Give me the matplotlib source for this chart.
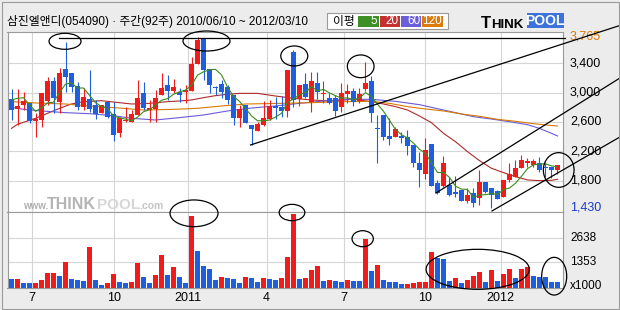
import matplotlib as mpl
mpl.use('Agg')
import numpy as np
import pandas as pd
import matplotlib.pyplot as plt
import matplotlib.transforms as mtransforms
from matplotlib.patches import Ellipse, Rectangle

# weekly candles 2010/06/10 ~ 2012/03/10 (92 weeks), prices in won
opens = [2913, 2781, 2827, 2854, 2618, 2627, 2890, 3163, 2868, 3322,
         3263, 3090, 2809, 2913, 2831, 2727, 2872, 2704, 2454, 2613,
         2604, 2695, 3000, 2763, 2772, 2968, 3104, 3022, 3004, 3009,
         3022, 3386, 3740, 3318, 3081, 3118, 3081, 2968, 2650, 2831,
         2559, 2481, 2559, 2636, 2818, 2800, 2754, 3549, 2909, 3118,
         2868, 3136, 2981, 2931, 2922, 2800, 2981, 3022, 2886, 3045,
         3159, 2518, 2695, 2409, 2391, 2409, 2391, 2286, 2045, 1891,
         2300, 1763, 1727, 1741, 1641, 1672, 1527, 1636, 1559, 1777,
         1695, 1659, 1581, 1809, 1854, 1968, 2045, 2013, 2036, 1990,
         1981, 1945]
highs = [3050, 3045, 3009, 2863, 2727, 3000, 3218, 3218, 3331, 3695,
         3272, 3150, 3059, 3309, 2900, 2831, 2872, 2872, 2663, 2809,
         2763, 3172, 3150, 2900, 3036, 3263, 3240, 3186, 3059, 3104,
         3490, 3765, 3740, 3318, 3090, 3172, 3104, 2968, 2831, 2831,
         2559, 2604, 2890, 2900, 2945, 2954, 3309, 3581, 3104, 3272,
         3286, 3286, 3163, 3000, 2968, 3127, 3118, 3059, 3059, 3422,
         3227, 2695, 2695, 2650, 2536, 2468, 2490, 2286, 2195, 2377,
         2300, 1809, 2136, 1854, 1868, 1672, 1695, 1695, 1945, 1786,
         1695, 1672, 1809, 2036, 2082, 2150, 2104, 2091, 2127, 2059,
         1990, 2013]
lows = [2627, 2559, 2763, 2590, 2400, 2536, 2831, 2718, 2718, 3013,
        3013, 2763, 2763, 2740, 2636, 2718, 2650, 2345, 2400, 2604,
        2604, 2695, 2763, 2604, 2604, 2968, 2900, 2990, 2877, 2854,
        3022, 3386, 3172, 2990, 2968, 2922, 2845, 2559, 2527, 2581,
        2286, 2481, 2545, 2627, 2636, 2672, 2663, 2800, 2818, 2922,
        2740, 2909, 2854, 2845, 2681, 2740, 2863, 2818, 2854, 3027,
        2604, 2036, 2354, 2286, 2391, 2309, 2150, 1990, 1718, 1822,
        1727, 1618, 1718, 1595, 1581, 1527, 1491, 1445, 1468, 1627,
        1430, 1550, 1581, 1786, 1854, 1968, 1990, 1981, 1922, 1854,
        1831, 1891]
closes = [2763, 2818, 2881, 2613, 2645, 3000, 3159, 2931, 3272, 3218,
          3081, 2809, 2936, 2777, 2709, 2827, 2672, 2422, 2650, 2627,
          2709, 2922, 2786, 2795, 2922, 3059, 3027, 3081, 2968, 3036,
          3390, 3718, 3309, 3104, 3068, 3013, 2900, 2650, 2772, 2590,
          2500, 2572, 2650, 2818, 2795, 2754, 3309, 2900, 3104, 2945,
          3159, 3013, 3000, 2863, 2754, 3000, 3022, 2877, 2977, 3127,
          2727, 2504, 2391, 2363, 2500, 2377, 2277, 2036, 1945, 2218,
          1727, 1627, 2045, 1604, 1618, 1527, 1604, 1491, 1777, 1641,
          1604, 1550, 1809, 1891, 1968, 2082, 2068, 2068, 1945, 1977,
          1945, 2013]
prev_closes = [2710, 2840, 3080, 3110]   # 4 weeks before the window (for MA5)

# volume, x1000 shares
volumes = [458, 470, 250, 240, 255, 405, 774, 780, 616, 1355,
           458, 405, 352, 2147, 405, 141, 246, 722, 300, 290,
           305, 1302, 563, 246, 669, 1725, 669, 1091, 563, 246,
           3802, 1936, 1144, 986, 405, 563, 510, 500, 246, 563,
           510, 299, 510, 458, 405, 510, 1619, 3890, 458, 510,
           933, 1144, 352, 405, 352, 299, 405, 352, 352, 2570,
           880, 1197, 405, 299, 299, 190, 200, 246, 299, 310,
           1883, 1566, 1514, 352, 510, 246, 405, 616, 827, 299,
           933, 352, 722, 986, 510, 986, 1091, 616, 563, 563,
           299, 299]

# longer moving averages (week index, price)
ma20_idx = [0, 1, 4, 6, 8, 10, 12, 15, 18, 20, 23, 26, 28, 30, 32, 34, 36, 38, 41, 44,
            47, 50, 53, 57, 60, 62, 64, 66, 68, 70, 72, 74, 76, 78, 80, 82, 84, 86, 88, 90, 91]
ma20_val = [2513, 2568, 2650, 2718, 2786, 2845, 2877, 2890, 2863, 2845, 2854, 2877, 2886, 2900,
            2931, 2959, 2977, 2990, 2990, 2954, 2922, 2900, 2886, 2909, 2877, 2845, 2809, 2763,
            2681, 2590, 2445, 2331, 2195, 2072, 1968, 1909, 1854, 1809, 1800, 1804, 1818]
ma60_idx = [0, 2, 5, 9, 13, 17, 20, 24, 28, 32, 36, 40, 44, 48, 52, 56, 60, 64, 68, 71,
            74, 77, 80, 83, 86, 88, 90, 91]
ma60_val = [2800, 2772, 2750, 2727, 2713, 2686, 2650, 2627, 2659, 2695, 2750, 2790, 2818, 2854,
            2886, 2909, 2909, 2881, 2836, 2781, 2727, 2672, 2640, 2604, 2563, 2513, 2445, 2409]
ma120_idx = [0, 4, 9, 13, 18, 22, 27, 31, 35, 39, 45, 50, 55, 60, 63, 66, 69, 72, 75, 78,
             81, 84, 87, 89, 91]
ma120_val = [2877, 2859, 2845, 2818, 2790, 2763, 2772, 2786, 2818, 2845, 2854, 2863, 2877, 2881,
             2854, 2809, 2777, 2750, 2709, 2677, 2636, 2609, 2577, 2559, 2545]

tick_pos = [3.47, 17.08, 29.42, 42.53, 55.42, 68.92, 81.53]
tick_lab = ['7', '10', '2011', '4', '7', '10', '2012']
price_ticks = [3400, 3000, 2600, 2200, 1800]
vol_ticks = [1353, 2638]

# hand drawn marks on the chart: (week, value, width in weeks, height in value)
price_circles = [(8.92, 3700, 5.33, 218), (32.5, 3704, 7.83, 273), (47.13, 3500, 4.5, 273),
                 (58.2, 3359, 4.45, 310), (91.2, 1945, 5.12, 473)]
vol_circles = [(30.42, 3944, 8.0, 1410), (46.75, 3986, 4.28, 861), (58.53, 2603, 3.55, 845),
               (77.7, 987, 17.2, 2112), (90.45, 623, 4.17, 1991)]
trend_lines = [((7.92, 3741), (92.25, 3741)), ((39.83, 2286), (101.4, 3916)),
               ((70.75, 1631), (101.4, 3199)), ((80.08, 1386), (101.4, 2395))]

RED = '#f01c1c'
BLUE = '#1f5fdf'
C_MA5, C_MA20, C_MA60, C_MA120 = '#3c8c1c', '#b02a2a', '#6a5ad8', '#d97a00'
NUM_FONT = ['Liberation Sans', 'DejaVu Sans']
KR_FONT = ['Liberation Sans', 'Noto Sans CJK KR', 'DejaVu Sans']

W, H = 620, 310
def fx(px):
    return px / W
def fy(py):
    return 1 - py / H

fig = plt.figure(figsize=(6.2, 3.1), dpi=100)
fig.patch.set_facecolor('#ececec')

ax_p = fig.add_axes([fx(7.5), fy(212), 555.5 / W, 180 / H])
ax_v = fig.add_axes([fx(7.5), fy(288), 555.5 / W, 76 / H])

O = np.array(opens); Hh = np.array(highs); L = np.array(lows); C = np.array(closes)
n = len(C)
x = np.arange(n)
cols = np.where(C >= O, RED, BLUE)

for ax in (ax_p, ax_v):
    ax.set_facecolor('white')
    ax.set_xlim(-0.667, 91.917)
    ax.set_xticks(tick_pos)
    ax.grid(True, color='#d6d6d6', lw=0.8)
    ax.set_axisbelow(True)
    for s in ax.spines.values():
        s.set_color('#9a9a9a')
        s.set_linewidth(0.8)
    ax.tick_params(length=0, labelleft=False)

ax_p.set_ylim(1372, 3827)
ax_p.set_yticks(price_ticks)
ax_p.tick_params(labelbottom=False)
ax_v.set_ylim(0, 4013)
ax_v.set_yticks(vol_ticks)
ax_v.set_xticklabels(tick_lab, fontsize=9, family=NUM_FONT)
ax_v.tick_params(axis='x', pad=3)

# candles
ax_p.vlines(x, L, Hh, colors=cols, lw=0.8, zorder=3)
ax_p.bar(x, np.maximum(np.abs(C - O), 14), bottom=np.minimum(O, C), width=0.8,
         color=cols, lw=0, zorder=3)

# moving averages
ma5 = pd.Series(prev_closes + closes).rolling(5).mean().to_numpy()[4:]
ax_p.plot(x, ma5, color=C_MA5, lw=0.8, zorder=4)
ax_p.plot(ma20_idx, ma20_val, color=C_MA20, lw=0.8, zorder=2)
ax_p.plot(ma60_idx, ma60_val, color=C_MA60, lw=0.8, zorder=2)
ax_p.plot(ma120_idx, ma120_val, color=C_MA120, lw=0.8, zorder=2)

# volume, red when up from previous week
vol = np.array(volumes)
vcols = [BLUE] + [RED if vol[i] > vol[i - 1] else BLUE for i in range(1, n)]
ax_v.bar(x, vol, width=0.8, color=vcols, lw=0, zorder=3)

# hand drawn circles and lines
for cx, cy, w, h in price_circles:
    ax_p.add_patch(Ellipse((cx, cy), w, h, fill=False, ec='black', lw=0.9, clip_on=False, zorder=6))
for cx, cy, w, h in vol_circles:
    ax_v.add_patch(Ellipse((cx, cy), w, h, fill=False, ec='black', lw=0.9, clip_on=False, zorder=6))
for (x0, y0), (x1, y1) in trend_lines:
    ax_p.plot([x0, x1], [y0, y1], color='black', lw=0.9, clip_on=False, zorder=6)

# right axis labels
tp = mtransforms.blended_transform_factory(ax_p.transAxes, ax_p.transData)
tv = mtransforms.blended_transform_factory(ax_v.transAxes, ax_v.transData)
lx = (570 - 7.5) / 555.5
for p in price_ticks:
    ax_p.text(lx, p, f'{p:,}', transform=tp, va='center', fontsize=9, family=NUM_FONT)
ax_p.text(lx, max(highs), f'{max(highs):,}', transform=tp, va='center', fontsize=9,
          family=NUM_FONT, color='#d97a00')
ax_p.text(lx, min(lows), f'{min(lows):,}', transform=tp, va='center', fontsize=9,
          family=NUM_FONT, color='#1a3ccc')
for v in vol_ticks:
    ax_v.text(lx, v, str(v), transform=tv, va='center', fontsize=8.5, family=NUM_FONT)
ax_v.text(lx, 106, 'x1000', transform=tv, va='center', fontsize=8.5, family=NUM_FONT)

# watermark
fig.text(fx(23), fy(209), 'www.', fontsize=7, fontweight='bold', color='#b0b0b0', family='Liberation Sans')
fig.text(fx(47), fy(209), 'THINK', fontsize=11.5, fontweight='bold', color='#b4b4b4', family='Liberation Sans')
fig.text(fx(97), fy(209), 'POOL', fontsize=11, fontweight='bold', color='#d6d6d6', family='Liberation Sans')
fig.text(fx(139), fy(209), '.com', fontsize=7.5, fontweight='bold', color='#c4c4c4', family='Liberation Sans')

# header
fig.text(fx(7), fy(21), '삼진엘앤디(054090) · 주간(92주) 2010/06/10 ~ 2012/03/10',
         va='center', fontsize=8.5, family=KR_FONT)
fig.patches.append(Rectangle((fx(327), fy(29)), 121 / W, 16 / H, transform=fig.transFigure,
                             fc='white', ec='#9a9a9a', lw=0.8))
fig.text(fx(332.5), fy(21), '이평', va='center', fontsize=8.5, family=['Noto Sans CJK KR'])
legend_items = [('5', '#3f8f27', 358), ('20', '#c53030', 379.5), ('60', '#6a5fd9', 400.7),
                ('120', '#dc7a0b', 422.5)]
for lab, col, x0 in legend_items:
    fig.patches.append(Rectangle((fx(x0), fy(27.3)), 20.5 / W, 11.6 / H,
                                 transform=fig.transFigure, fc=col, ec='none'))
    fig.text(fx(x0 + 19.5), fy(21.5), lab, ha='right', va='center', color='white',
             fontsize=8.5, family=NUM_FONT)

# logo
fig.text(fx(481), fy(28), 'T', fontsize=12, fontweight='bold', family='Liberation Sans')
fig.text(fx(491.5), fy(28), 'HINK', fontsize=9.5, fontweight='bold', family='Liberation Sans')
fig.patches.append(Rectangle((fx(526.7), fy(28.3)), 37.3 / W, 15 / H, transform=fig.transFigure,
                             fc='#3c72da', ec='none'))
fig.text(fx(545.3), fy(21), 'POOL', ha='center', va='center', fontsize=10, fontweight='bold',
         color='white', family='Liberation Sans')

# outer frame
fig.patches.append(Rectangle((fx(1.5), fy(308.5)), 617 / W, 307 / H, transform=fig.transFigure,
                             fill=False, ec='#9a9a9a', lw=0.8))

fig.savefig('out.png', dpi=100)
plt.close()
